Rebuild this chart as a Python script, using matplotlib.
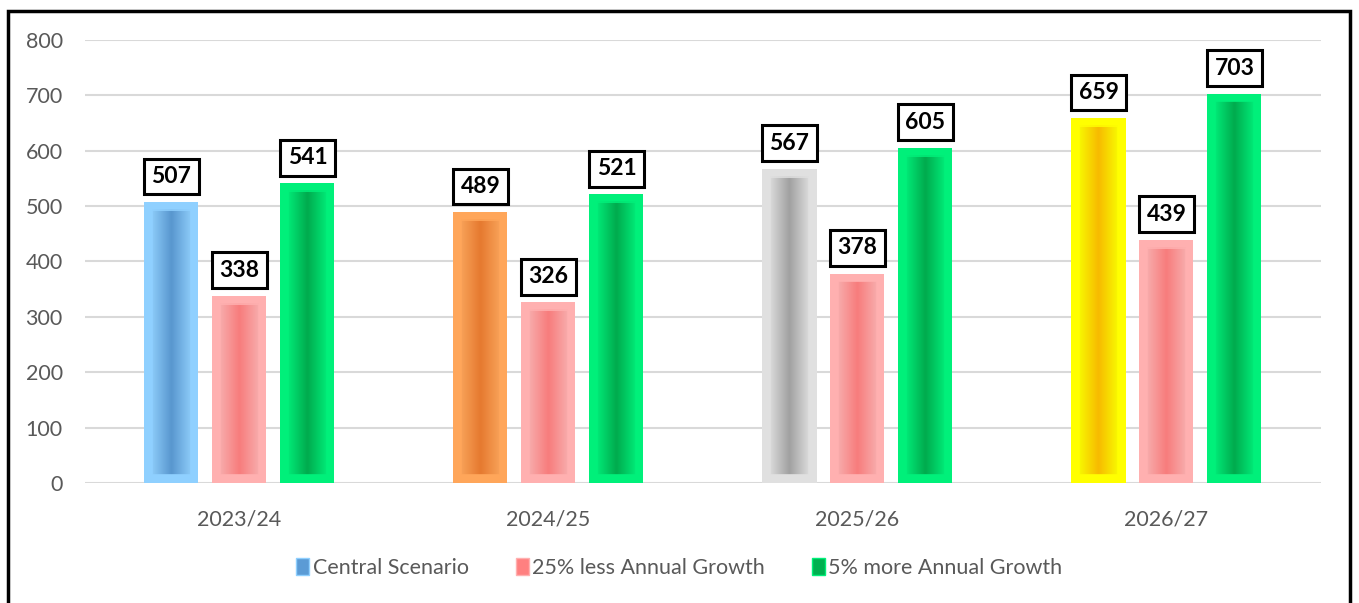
import numpy as np
import matplotlib.pyplot as plt
from matplotlib.patches import Patch, Rectangle
from matplotlib.colors import to_rgb

years = ['2023/24', '2024/25', '2025/26', '2026/27']
central = [507, 489, 567, 659]
less_growth = [338, 326, 378, 439]
more_growth = [541, 521, 605, 703]
series_names = ['Central Scenario', '25% less Annual Growth', '5% more Annual Growth']

# (edge, centre) colours for the bevel look
central_cols = [('#8fd0ff', '#5b9bd5'), ('#ffa65a', '#ed7d31'),
                ('#e0e0e0', '#a5a5a5'), ('#ffff00', '#ffc000')]
pink_cols = ('#ffb0b0', '#ff8080')
green_cols = ('#00f07a', '#00b050')

plt.rcParams['font.family'] = ['Lato', 'DejaVu Sans']

fig = plt.figure(figsize=(13.59, 6.03), dpi=100)
ax = fig.add_axes([0.0625, 0.199, 0.9095, 0.7347])

x = np.arange(len(years))
w = 0.175
off = 0.22


def bevel_bar(xc, h, edge, centre):
    ax.bar(xc, h, width=w, color=edge, zorder=2)
    iw = w * 0.72
    ins = 14
    c0 = np.array(to_rgb(edge))
    c1 = np.array(to_rgb(centre))
    t = np.abs(np.linspace(-1, 1, 40))
    grad = (c1[None, :] * (1 - t[:, None]) + c0[None, :] * t[:, None]) * 0.97
    ax.imshow(grad[None, :, :], extent=[xc - iw / 2, xc + iw / 2, ins, h - ins],
              aspect='auto', zorder=3, interpolation='bilinear')
    ax.add_patch(Rectangle((xc - iw / 2, ins), iw, h - 2 * ins, fill=False,
                           ec=edge, lw=1.2, zorder=4))


def label(xc, h):
    ax.annotate(str(h), (xc, h), xytext=(0, 18.5), textcoords='offset points',
                ha='center', va='center', fontsize=16.5, fontweight='bold',
                bbox=dict(boxstyle='square,pad=0.32', fc='white', ec='black', lw=2.2),
                zorder=5)


for i in range(len(years)):
    bevel_bar(x[i] - off, central[i], *central_cols[i])
    bevel_bar(x[i], less_growth[i], *pink_cols)
    bevel_bar(x[i] + off, more_growth[i], *green_cols)
    label(x[i] - off, central[i])
    label(x[i], less_growth[i])
    label(x[i] + off, more_growth[i])

ax.set_xlim(-0.5, len(years) - 0.5)
ax.set_ylim(0, 800)
ax.set_yticks(range(0, 801, 100))
ax.set_xticks(x)
ax.set_xticklabels(years)
ax.grid(axis='y', color='#d9d9d9', lw=1.5, zorder=0)
ax.set_axisbelow(True)
for s in ax.spines.values():
    s.set_visible(False)
ax.tick_params(axis='both', length=0, labelsize=15.5, colors='#595959')
ax.tick_params(axis='y', pad=16)
ax.tick_params(axis='x', pad=19)

handles = [Patch(fc=central_cols[0][1], ec=central_cols[0][0]),
           Patch(fc=pink_cols[1], ec=pink_cols[0]),
           Patch(fc=green_cols[1], ec=green_cols[0])]
fig.legend(handles, series_names, loc='center', bbox_to_anchor=(0.5, 0.058), ncol=3,
           frameon=False, fontsize=15.5, labelcolor='#595959', handlelength=0.6,
           handleheight=0.8, handletextpad=0.15, columnspacing=2.2)

fig.patches.append(Rectangle((8 / 1359, -0.02), 1342 / 1359, 1.02 - 11 / 603,
                             transform=fig.transFigure, fill=False, ec='black', lw=2.5))

fig.savefig('out.png', dpi=100)
